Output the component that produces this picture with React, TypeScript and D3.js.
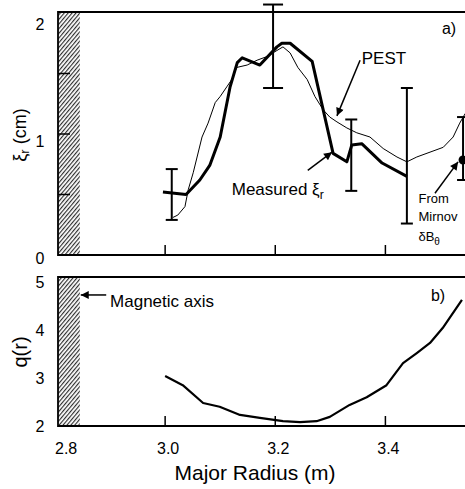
import React from "react";
import * as d3 from "d3";

// measured displacement, thick curve (major radius m, xi_r cm)
const measuredR = [2.996, 3.038, 3.063, 3.081, 3.1, 3.118, 3.131, 3.14, 3.172, 3.203, 3.212, 3.227, 3.267, 3.305, 3.33, 3.339, 3.357, 3.394, 3.439];
const measuredXi = [0.52, 0.5, 0.62, 0.74, 0.975, 1.39, 1.59, 1.63, 1.57, 1.72, 1.75, 1.75, 1.6, 0.84, 0.77, 0.91, 0.92, 0.76, 0.65];

// PEST calculation, thin curve
const pestR = [3.014, 3.023, 3.036, 3.042, 3.051, 3.067, 3.078, 3.091, 3.1, 3.112, 3.121, 3.13, 3.149, 3.167, 3.185, 3.203, 3.214, 3.227, 3.241, 3.258, 3.272, 3.287, 3.299, 3.312, 3.33, 3.348, 3.372, 3.396, 3.421, 3.439, 3.457, 3.481, 3.505, 3.523, 3.535, 3.545];
const pestXi = [0.31, 0.33, 0.4, 0.54, 0.68, 0.975, 1.09, 1.26, 1.31, 1.39, 1.45, 1.55, 1.57, 1.61, 1.64, 1.69, 1.72, 1.67, 1.55, 1.45, 1.31, 1.2, 1.14, 1.1, 1.05, 1.01, 0.975, 0.88, 0.81, 0.77, 0.81, 0.85, 0.89, 0.975, 1.09, 1.17];

// error bars
const errR = [3.012, 3.196, 3.338, 3.439];
const errLo = [0.29, 1.38, 0.53, 0.26];
const errHi = [0.71, 2.07, 1.12, 1.38];

// Mirnov point
const mirnovR = [3.541];
const mirnovXi = [0.785];
const mirnovLo = [0.62];
const mirnovHi = [1.14];

// safety factor profile
const qR = [3.0, 3.032, 3.069, 3.099, 3.136, 3.172, 3.214, 3.245, 3.275, 3.299, 3.335, 3.366, 3.402, 3.432, 3.457, 3.481, 3.504, 3.539];
const qVal = [3.04, 2.85, 2.48, 2.4, 2.23, 2.17, 2.1, 2.08, 2.1, 2.19, 2.44, 2.6, 2.85, 3.31, 3.52, 3.73, 4.04, 4.63];

const xTicks = [2.8, 3.0, 3.2, 3.4];
const xTickLabels = ["2.8", "3.0", "3.2", "3.4"];
const xiLabels = [0, 1, 2];
const xiTicks = [0.5, 1, 1.5];
const qLabels = [2, 3, 4, 5];
const magAxisR = 2.845;

const W = 465;
const H = 489;
const FONT = "Helvetica, Arial, 'Liberation Sans', sans-serif";

export default function App() {
  const x = d3.scaleLinear().domain([2.8, 3.55]).range([55, 468]);
  const yTop = d3.scaleLinear().domain([0, 2]).range([255, 13]);
  const yTopLabel = d3.scaleLinear().domain([0, 2]).range([258, 24]);
  const yBot = d3.scaleLinear().domain([2, 5]).range([426, 282]);

  const left = 58;
  const right = W;
  const topT = 12, topB = 255;
  const botT = 277, botB = 426;

  const lineTop = d3.line<[number, number]>().x(d => x(d[0])).y(d => yTop(d[1]));
  const lineBot = d3.line<[number, number]>().x(d => x(d[0])).y(d => yBot(d[1]));

  const measured = measuredR.map((r, i) => [r, measuredXi[i]] as [number, number]);
  const pest = pestR.map((r, i) => [r, pestXi[i]] as [number, number]);
  const q = qR.map((r, i) => [r, qVal[i]] as [number, number]);

  const hatchX = x(magAxisR);
  const cap = 6;

  const errBar = (r: number, lo: number, hi: number, key: string, w: number) => (
    <g key={key} stroke="#000" strokeWidth={2} fill="none">
      <line x1={x(r)} x2={x(r)} y1={yTop(lo)} y2={yTop(hi)} />
      <line x1={x(r) - w} x2={x(r) + w} y1={yTop(lo)} y2={yTop(lo)} />
      <line x1={x(r) - w} x2={x(r) + w} y1={yTop(hi)} y2={yTop(hi)} />
    </g>
  );

  const arrow = (x1: number, y1: number, x2: number, y2: number, key: string) => (
    <line key={key} x1={x1} y1={y1} x2={x2} y2={y2} stroke="#000" strokeWidth={1.5} markerEnd="url(#ah)" />
  );

  return (
    <svg width={W} height={H} style={{ position: "absolute", left: 0, top: 0, background: "#fff" }} fontFamily={FONT}>
      <defs>
        <pattern id="hatch" patternUnits="userSpaceOnUse" width={3} height={10} patternTransform="rotate(40)">
          <rect width={3} height={10} fill="#fff" />
          <line x1={0.6} x2={0.6} y1={0} y2={10} stroke="#222" strokeWidth={1.1} />
        </pattern>
        <marker id="ah" viewBox="0 0 10 10" refX={10} refY={5} markerWidth={11} markerHeight={8} markerUnits="userSpaceOnUse" orient="auto">
          <path d="M0,0 L10,5 L0,10 z" fill="#000" />
        </marker>
      </defs>

      {/* panel a */}
      <rect x={left} y={topT} width={hatchX - left} height={topB - topT} fill="url(#hatch)" />
      <path d={`M${right},${topT} H${left} V${topB} H${right}`} fill="none" stroke="#000" strokeWidth={1.8} />
      {xiTicks.map(v => (
        <line key={"yt" + v} x1={left} x2={left + 12} y1={yTop(v)} y2={yTop(v)} stroke="#000" strokeWidth={1.5} />
      ))}
      {xTicks.slice(1).map(v => (
        <line key={"xt" + v} x1={x(v)} x2={x(v)} y1={topB} y2={topB - 10} stroke="#000" strokeWidth={1.5} />
      ))}
      {xiLabels.map(v => (
        <text key={"yl" + v} x={40} y={yTopLabel(v)} fontSize={16} textAnchor="middle" dominantBaseline="central">{v}</text>
      ))}
      <text transform={`translate(20,135) rotate(-90)`} fontSize={18} textAnchor="middle" dominantBaseline="central">
        ξ<tspan fontSize={13} dy={4}>r</tspan><tspan dy={-4}> (cm)</tspan>
      </text>

      <path d={lineTop(pest) || ""} fill="none" stroke="#000" strokeWidth={1} strokeLinejoin="round" />
      <path d={lineTop(measured) || ""} fill="none" stroke="#000" strokeWidth={3} strokeLinejoin="round" />
      {errR.map((r, i) => errBar(r, errLo[i], errHi[i], "eb" + i, i === 1 ? 10 : cap))}
      {mirnovR.map((r, i) => (
        <g key={"mv" + i}>
          {errBar(r, mirnovLo[i], mirnovHi[i], "mve" + i, cap)}
          <circle cx={x(r)} cy={yTop(mirnovXi[i])} r={4.5} fill="#000" />
        </g>
      ))}

      {arrow(x(3.354), yTop(1.61), x(3.312), yTop(1.15), "apest")}
      {arrow(x(3.259), yTop(0.70), x(3.303), yTop(0.85), "ameas")}
      {arrow(x(3.49), yTop(0.51), x(3.532), yTop(0.77), "amirn")}

      <text x={x(3.357)} y={yTop(1.62)} fontSize={17} dominantBaseline="central">PEST</text>
      <text x={x(3.121)} y={yTop(0.54)} fontSize={17} dominantBaseline="central">
        Measured ξ<tspan fontSize={12} dy={5}>r</tspan>
      </text>
      <text x={x(3.46)} y={yTop(0.47)} fontSize={13} dominantBaseline="central">From</text>
      <text x={x(3.46)} y={yTop(0.32)} fontSize={13} dominantBaseline="central">Mirnov</text>
      <text x={x(3.46)} y={yTop(0.15)} fontSize={13} dominantBaseline="central">
        δB<tspan fontSize={10} dy={4}>θ</tspan>
      </text>
      <text x={449} y={28} fontSize={16} textAnchor="middle" dominantBaseline="central">a)</text>

      {/* panel b */}
      <rect x={left} y={botT} width={hatchX - left} height={botB - botT} fill="url(#hatch)" />
      <path d={`M${right},${botT} H${left} V${botB} H${right}`} fill="none" stroke="#000" strokeWidth={1.8} />
      {xTicks.slice(1).map(v => (
        <line key={"bt" + v} x1={x(v)} x2={x(v)} y1={botB} y2={botB - 10} stroke="#000" strokeWidth={1.5} />
      ))}
      {qLabels.map(v => (
        <text key={"ql" + v} x={40} y={yBot(v)} fontSize={16} textAnchor="middle" dominantBaseline="central">{v}</text>
      ))}
      <text transform={`translate(20,352) rotate(-90)`} fontSize={20} textAnchor="middle" dominantBaseline="central">q(r)</text>
      <path d={lineBot(q) || ""} fill="none" stroke="#000" strokeWidth={2.2} strokeLinejoin="round" />
      {arrow(x(2.893), yBot(4.73), hatchX + 1, yBot(4.73), "amag")}
      <text x={x(2.9)} y={yBot(4.6)} fontSize={17} dominantBaseline="central">Magnetic axis</text>
      <text x={438} y={295} fontSize={16} textAnchor="middle" dominantBaseline="central">b)</text>

      {xTicks.map((v, i) => (
        <text key={"xl" + v} x={i === 0 ? x(v) : x(v) + 3} y={448} fontSize={16} textAnchor={i === 0 ? "start" : "middle"} dominantBaseline="central">{xTickLabels[i]}</text>
      ))}
      <text x={255} y={480} fontSize={21} textAnchor="middle">Major Radius (m)</text>
    </svg>
  );
}
